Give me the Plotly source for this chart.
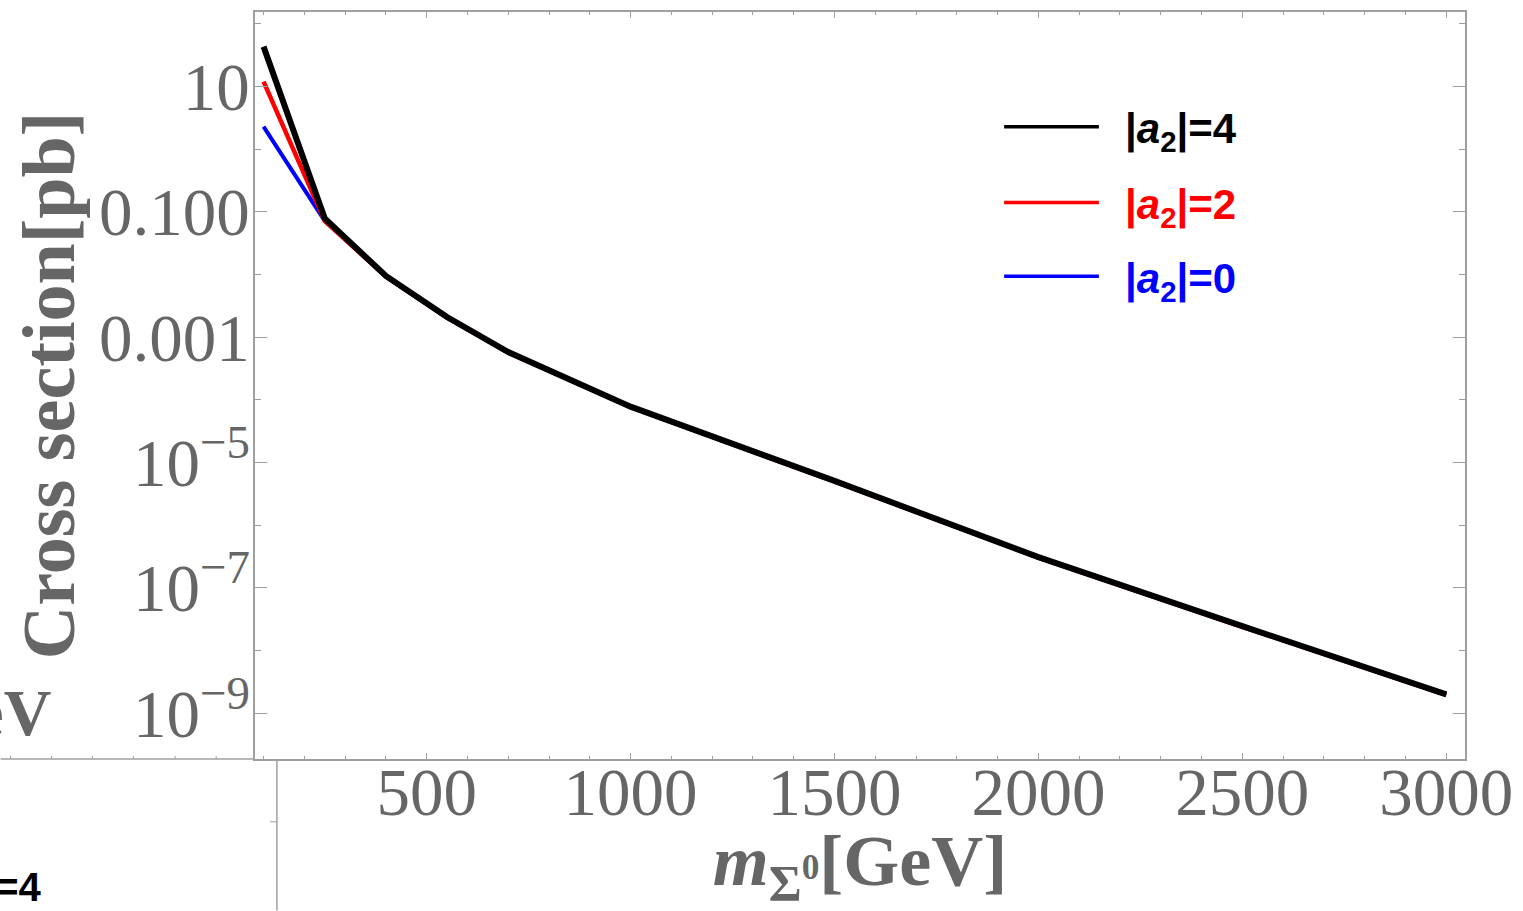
import plotly.graph_objects as go

# ---- data ----
mass = [100, 250, 400, 550, 700, 850, 1000, 1500, 2000, 2500, 3000]
xs_a4 = [43.4, 0.079, 0.0095, 2.1e-3, 5.8e-4, 2.15e-4, 7.8e-5, 5.1e-6, 3.1e-7, 2.45e-8, 2.0e-9]
xs_a2 = [12.0, 0.072, 0.0093, 2.05e-3, 5.7e-4, 2.1e-4, 7.7e-5, 5.0e-6, 3.05e-7, 2.4e-8, 1.97e-9]
xs_a0 = [2.3, 0.072, 0.0093, 2.05e-3, 5.7e-4, 2.1e-4, 7.7e-5, 5.0e-6, 3.05e-7, 2.4e-8, 1.97e-9]

series_names = ["|<i>a</i><sub>2</sub>|=4", "|<i>a</i><sub>2</sub>|=2", "|<i>a</i><sub>2</sub>|=0"]
series_colors = ["#000000", "#ff0000", "#0000ff"]

x_ticks = [500, 1000, 1500, 2000, 2500, 3000]
y_ticks = [1e-9, 1e-7, 1e-5, 1e-3, 1e-1, 10]
y_ticktext = ["10<sup>−9</sup>", "10<sup>−7</sup>", "10<sup>−5</sup>", "0.001", "0.100", "10"]
y_minor = [1e-8, 1e-6, 1e-4, 1e-2, 1, 100]

# ---- layout geometry (pixels) ----
W, H = 1523, 911
L, R, T, B = 255, 1468, 10, 759
PW, PH = R - L, B - T


def px(x):
    return (x - L) / PW


def py(y):
    return (B - y) / PH


GREY = "#666666"
FRAME = "#a0a0a0"
SERIF = "Liberation Serif"
SANS = "Liberation Sans"

fig = go.Figure()
for ys, name, col, w in [(xs_a0, series_names[2], series_colors[2], 4),
                         (xs_a2, series_names[1], series_colors[1], 4.5),
                         (xs_a4, series_names[0], series_colors[0], 6)]:
    fig.add_trace(go.Scatter(x=mass, y=ys, mode="lines", name=name,
                             line=dict(color=col, width=w), showlegend=False))

fig.update_layout(
    width=W, height=H,
    margin=dict(l=L, r=W - R, t=T, b=H - B, pad=0),
    paper_bgcolor="white", plot_bgcolor="white",
    showlegend=False,
    xaxis=dict(
        range=[79, 3046], showgrid=False, zeroline=False,
        showline=True, linecolor=FRAME, linewidth=1.5, mirror="allticks",
        ticks="inside", ticklen=6, tickcolor=FRAME, tickwidth=1,
        tickmode="array", tickvals=x_ticks, ticktext=[str(v) for v in x_ticks],
        tickfont=dict(family=SERIF, size=67, color=GREY),
        ticklabelstandoff=-26,
        minor=dict(dtick=100, tick0=0, ticks="inside", ticklen=3, tickcolor=FRAME, showgrid=False),
        title=dict(text="<b><i>m</i><sub>Σ<sup>0</sup></sub>[GeV]</b>",
                   font=dict(family=SERIF, size=72, color=GREY), standoff=4),
    ),
    yaxis=dict(
        type="log", range=[-9.73, 2.19], showgrid=False, zeroline=False,
        showline=True, linecolor=FRAME, linewidth=1.5, mirror="allticks",
        ticks="inside", ticklen=12, tickcolor=FRAME, tickwidth=1,
        tickmode="array", tickvals=y_ticks, ticktext=y_ticktext,
        tickfont=dict(family=SERIF, size=67, color=GREY),
        ticklabelstandoff=-10,
        minor=dict(tickmode="array", tickvals=y_minor, ticks="inside", ticklen=6,
                   tickcolor=FRAME, showgrid=False),
        title=dict(text="<b>Cross section[pb]</b>",
                   font=dict(family=SERIF, size=74, color=GREY), standoff=0),
    ),
)

# ---- custom legend ----
leg_y = [125, 201, 275]
for name, col, yy in zip(series_names, series_colors, leg_y):
    fig.add_shape(type="line", xref="paper", yref="paper",
                  x0=px(1006), x1=px(1101), y0=py(yy), y1=py(yy),
                  line=dict(color=col, width=3.5))
    fig.add_annotation(xref="paper", yref="paper", x=px(1125), y=py(yy + 5),
                       xanchor="left", yanchor="middle", showarrow=False,
                       text="<b>" + name + "</b>",
                       font=dict(family=SANS, size=42, color=col))

# ---- fragments of the neighbouring panel (cropping remnants) ----
fig.add_shape(type="line", xref="paper", yref="paper", x0=px(0), x1=px(L), y0=py(B), y1=py(B),
              line=dict(color=FRAME, width=1.5))
for tx in [10, 51, 92, 133, 175, 216]:
    fig.add_shape(type="line", xref="paper", yref="paper", x0=px(tx), x1=px(tx),
                  y0=py(B), y1=py(B - 3), line=dict(color=FRAME, width=1))
fig.add_shape(type="line", xref="paper", yref="paper", x0=px(277), x1=px(277), y0=py(B), y1=py(H),
              line=dict(color=FRAME, width=1.5))
fig.add_shape(type="line", xref="paper", yref="paper", x0=px(270), x1=px(277), y0=py(822), y1=py(822),
              line=dict(color=FRAME, width=1))
fig.add_annotation(xref="paper", yref="paper", x=px(52), y=py(712), xanchor="right", yanchor="middle",
                   showarrow=False, text="<b>GeV</b>", font=dict(family=SERIF, size=66, color=GREY))
fig.add_annotation(xref="paper", yref="paper", x=px(43), y=py(890), xanchor="right", yanchor="middle",
                   showarrow=False, text="<b>|<i>a</i><sub>2</sub>|=4</b>",
                   font=dict(family=SANS, size=40, color="black"))

fig.write_html("out.html")
